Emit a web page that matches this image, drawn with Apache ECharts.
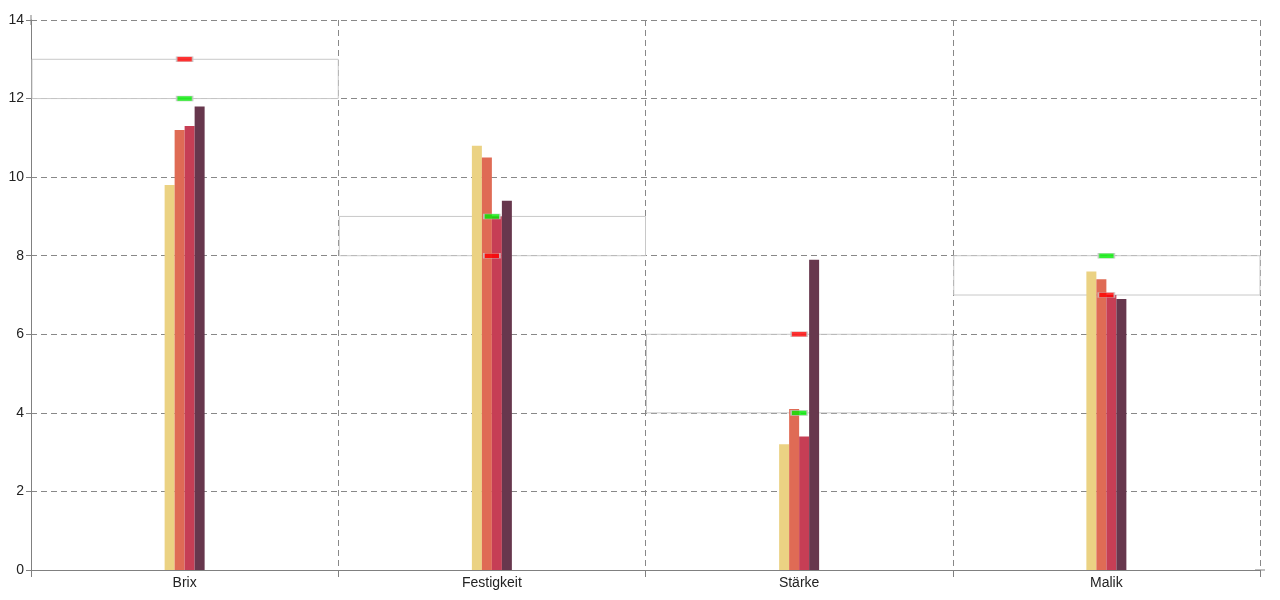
<!DOCTYPE html>
<html><head><meta charset="utf-8">
<script src="https://cdn.jsdelivr.net/npm/echarts@6/dist/echarts.min.js"></script>
<style>html,body{margin:0;padding:0;background:#fff}#c{width:1280px;height:600px}</style>
</head><body><div id="c"></div>
<script>
const categories = ['Brix', 'Festigkeit', 'Stärke', 'Malik'];
const series1 = [9.8, 10.8, 3.2, 7.6];
const series2 = [11.2, 10.5, 4.1, 7.4];
const series3 = [11.3, 9.0, 3.4, 7.0];
const series4 = [11.8, 9.4, 7.9, 6.9];
const redMarks = [13, 8, 6, 7];
const greenMarks = [12, 9, 4, 8];
const yTicks = [0, 2, 4, 6, 8, 10, 12, 14];

const colors = ['#ebd283', '#df6b55', '#c63e55', '#67374d'];
const boxes = categories.map((c, i) => [i, Math.min(redMarks[i], greenMarks[i]), Math.max(redMarks[i], greenMarks[i])]);

const chart = echarts.init(document.getElementById('c'));
const axisColor = '#808080';
const barSeries = [series1, series2, series3, series4].map((d, i) => ({
  type: 'bar', data: d, barWidth: 10, barGap: '0%', z: 3,
  itemStyle: { color: colors[i] }
}));
chart.setOption({
  animation: false,
  grid: { left: 31, right: 20, top: 20, bottom: 30 },
  xAxis: {
    type: 'category', data: categories,
    axisLine: { lineStyle: { color: axisColor }, symbol: ['none', 'rect'], symbolSize: [1, 10] },
    axisTick: { show: true, length: 7, lineStyle: { color: axisColor } },
    axisLabel: { color: '#222', fontSize: 14, fontFamily: 'Liberation Sans, Arial', margin: 6 },
    splitLine: { show: true, lineStyle: { color: '#888', type: [6, 4] } }
  },
  yAxis: {
    type: 'value', min: 0, max: 14, interval: 2,
    axisLine: { show: true, lineStyle: { color: axisColor }, symbol: ['none', 'rect'], symbolSize: [1, 10] },
    axisTick: { show: true, length: 5, lineStyle: { color: axisColor } },
    axisLabel: { color: '#222', fontSize: 14, fontFamily: 'Liberation Sans, Arial', margin: 7,
      formatter: v => yTicks.includes(v) ? String(v) : '' },
    splitLine: { show: true, lineStyle: { color: '#888', type: [6, 4] } }
  },
  series: [
    {
      type: 'custom', z: 1, data: boxes,
      renderItem: (params, api) => {
        const top = api.coord([api.value(0), api.value(2)]);
        const bot = api.coord([api.value(0), api.value(1)]);
        const w = api.size([1, 0])[0];
        return { type: 'rect', shape: { x: top[0] - w / 2 + 1, y: top[1], width: w - 1, height: bot[1] - top[1] },
          style: { fill: 'none', stroke: '#c8c8c8', lineWidth: 1 } };
      }
    },
    ...barSeries,
    { type: 'scatter', data: greenMarks, symbol: 'rect', symbolSize: [16, 5], z: 5,
      itemStyle: { color: '#00ee00', borderColor: '#c8c8c8', borderWidth: 1 } },
    { type: 'scatter', data: redMarks, symbol: 'rect', symbolSize: [16, 5], z: 5,
      itemStyle: { color: '#ff0000', borderColor: '#c8c8c8', borderWidth: 1 } }
  ]
});
</script></body></html>
